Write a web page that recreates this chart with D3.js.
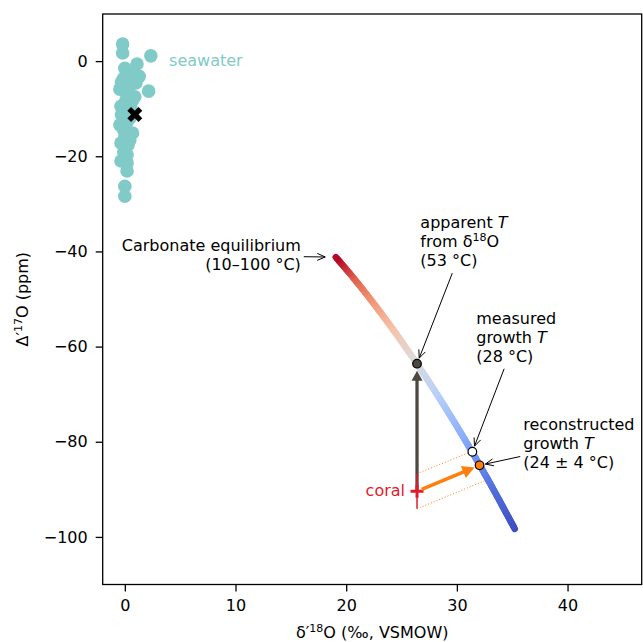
<!DOCTYPE html>
<html>
<head>
<meta charset="utf-8">
<script src="https://cdn.jsdelivr.net/npm/d3@7"></script>
<style>
body { margin: 0; background: #fff; }
text { font-family: "DejaVu Sans", sans-serif; }
</style>
</head>
<body>
<div class="container"></div>
<script>
// seawater samples (d'18O permil, D'17O ppm)
var seaD18 = [-0.2, -0.2, 2.35, 1.1, 0.0, 0.55, -0.1, 1.0, 2.15, -0.45, 0.2, 0.7, -0.35, 0.1, 0.1, 0.45, -0.45, 0.2,
              0.7, 0.0, -0.35, 0.3, -0.1, -0.35, 0.2, 0.2, 0.0, 0.0, -0.3, 0.35, -0.1, -0.3, 0.55, 0.2, 0.45, 1.3, 0.9]
var seaD17 = [3.6, 1.7, 1.1, -0.6, -1.5, -2.5, -3.6, -4.6, -6.3, -5.9, -6.9, -8.2, -9.5, -8.2, -10.3, -12.0, -13.4, -12.8,
              -15.1, -16.0, -17.2, -17.6, -19.1, -21.0, -21.4, -23.1, -26.3, -28.4, -4.4, -5.5, -14.5, -11.3, -9.9, -19.7, -16.6, -3.2, -7.5]
var seaMean = [0.9, -11.2]

// carbonate equilibrium line, 10-100 C
var eqTemp = [10, 20, 30, 40, 50, 60, 70, 80, 90, 100]
var eqD18 = [35.23, 32.95, 30.81, 28.81, 26.93, 25.17, 23.51, 21.94, 20.46, 19.06]
var eqD17 = [-98.3, -88.55, -79.9, -72.27, -65.48, -59.47, -54.11, -49.31, -45.02, -41.2]

// coral and the three temperature points
var coral = [26.4, -90.4]
var coralErr = 3.7
var apparentPt = [26.4, -63.6]
var measuredPt = [31.4, -82.1]
var reconPt = [32.05, -84.95]
var bandUpper = [[26.4, -86.7], [31.4, -82.0]]
var bandLower = [[26.4, -94.1], [32.6, -88.1]]

var xTicks = [0, 10, 20, 30, 40]
var yTicks = [0, -20, -40, -60, -80, -100]

var notes = [
    { lines: ['Carbonate equilibrium', '(10–100 °C)'], at: [15.9, -40.0], anchor: 'end', target: [19.1, -41.2], shrink: 11 },
    { lines: ['apparent <i>T</i>', 'from δ<sup>18</sup>O', '(53 °C)'], at: [26.7, -35.1], anchor: 'start', target: apparentPt, shrink: 6 },
    { lines: ['measured', 'growth <i>T</i>', '(28 °C)'], at: [31.75, -55.2], anchor: 'start', target: measuredPt, shrink: 6 },
    { lines: ['reconstructed', 'growth <i>T</i>', '(24 ± 4 °C)'], at: [36.0, -77.6], anchor: 'start', target: reconPt, shrink: 6 }
]

var coolwarm = ['#3b4cc0', '#5a78e4', '#8db0fe', '#b8d0f9', '#dddcdc', '#f5c4ac', '#f49a7b', '#e0654f', '#b40426']

var W = 643, H = 642
var mLeft = 102.7, mRight = 641.7, mTop = 14, mBottom = 584.5
var font = 16
var teal = '#80cbc8', red = '#e31a2c', orange = '#ff7f0e', gray = '#4d4840'

var svg = d3.select('.container')
    .append('svg')
    .attr('width', W)
    .attr('height', H)

var x = d3.scaleLinear().domain([-2.0, 46.7]).range([mLeft, mRight])
var y = d3.scaleLinear().domain([-110, 9.9]).range([mBottom, mTop])

var tempColor = d3.scaleLinear()
    .domain(d3.range(coolwarm.length).map(i => 10 + 90 * i / (coolwarm.length - 1)))
    .range(coolwarm)

// axes
svg.append('g')
    .attr('transform', 'translate(0,' + mBottom + ')')
    .call(d3.axisBottom(x).tickValues(xTicks).tickSize(7).tickSizeOuter(0).tickPadding(8))
svg.append('g')
    .attr('transform', 'translate(' + mLeft + ',0)')
    .call(d3.axisLeft(y).tickValues(yTicks).tickSize(7).tickSizeOuter(0).tickPadding(8))
svg.selectAll('.domain').remove()
svg.selectAll('.tick line').style('stroke', '#000').style('stroke-width', 1.3)
svg.selectAll('.tick text').style('font-size', font + 'px').style('fill', '#000').style('font-family', '"DejaVu Sans", sans-serif')

svg.append('rect')
    .attr('x', mLeft).attr('y', mTop)
    .attr('width', mRight - mLeft).attr('height', mBottom - mTop)
    .style('fill', 'none').style('stroke', '#000').style('stroke-width', 1.3)

// axis labels
svg.append('text')
    .attr('x', (mLeft + mRight) / 2).attr('y', 638)
    .attr('text-anchor', 'middle')
    .style('font-size', font + 'px')
    .html('δ′<tspan baseline-shift="super" font-size="11px">18</tspan>O (‰, VSMOW)')

svg.append('text')
    .attr('transform', 'translate(28,' + ((mTop + mBottom) / 2) + ') rotate(-90)')
    .attr('text-anchor', 'middle')
    .style('font-size', font + 'px')
    .html('Δ′<tspan baseline-shift="super" font-size="11px">17</tspan>O (ppm)')

var plot = svg.append('g')

// seawater
plot.selectAll('.sea')
    .data(seaD18.map((d, i) => [d, seaD17[i]]))
    .enter()
    .append('circle')
    .attr('class', 'sea')
    .attr('cx', d => x(d[0]))
    .attr('cy', d => y(d[1]))
    .attr('r', 6.8)
    .style('fill', teal)

plot.append('path')
    .attr('d', d3.symbol(d3.symbolCross, 140)())
    .attr('transform', 'translate(' + x(seaMean[0]) + ',' + y(seaMean[1]) + ') rotate(45)')
    .style('fill', '#000')

plot.append('text')
    .attr('x', x(4.0)).attr('y', y(-1.0))
    .style('font-size', font + 'px')
    .style('fill', teal)
    .text('seawater')

// equilibrium line: smooth path, then cut into short pieces coloured by temperature
var eqPts = eqTemp.map((t, i) => [x(eqD18[i]), y(eqD17[i])])
var guide = plot.append('path')
    .attr('d', d3.line().curve(d3.curveCatmullRom)(eqPts))
    .style('fill', 'none').style('stroke', 'none')
var node = guide.node()
var L = node.getTotalLength()
// temperature as a function of position along the path (via chord lengths)
var cum = [0]
for (var i = 1; i < eqPts.length; i++) {
    cum.push(cum[i - 1] + Math.hypot(eqPts[i][0] - eqPts[i - 1][0], eqPts[i][1] - eqPts[i - 1][1]))
}
var lenToT = d3.scaleLinear().domain(cum.map(c => c / cum[cum.length - 1] * L)).range(eqTemp)
var nSeg = 120
var segs = d3.range(nSeg).map(k => {
    var a = node.getPointAtLength(L * k / nSeg), b = node.getPointAtLength(L * (k + 1) / nSeg)
    return { x0: a.x, y0: a.y, x1: b.x, y1: b.y, T: lenToT(L * (k + 0.5) / nSeg) }
})
plot.selectAll('.eq')
    .data(segs)
    .enter()
    .append('line')
    .attr('class', 'eq')
    .attr('x1', d => d.x0).attr('y1', d => d.y0)
    .attr('x2', d => d.x1).attr('y2', d => d.y1)
    .style('stroke', d => tempColor(d.T))
    .style('stroke-width', 6.6)
    .style('stroke-linecap', 'round')

// dotted projection band
plot.selectAll('.band')
    .data([bandUpper, bandLower])
    .enter()
    .append('path')
    .attr('class', 'band')
    .attr('d', d3.line().x(d => x(d[0])).y(d => y(d[1])))
    .style('fill', 'none')
    .style('stroke', orange)
    .style('stroke-width', 1)
    .style('stroke-dasharray', '1,2')

function arrow(g, p0, p1, o) {
    var dx = p1[0] - p0[0], dy = p1[1] - p0[1]
    var len = Math.sqrt(dx * dx + dy * dy)
    var ux = dx / len, uy = dy / len, nx = -uy, ny = ux
    var sx = p0[0] + ux * (o.shrinkA || 0), sy = p0[1] + uy * (o.shrinkA || 0)
    var tx = p1[0] - ux * (o.shrinkB || 0), ty = p1[1] - uy * (o.shrinkB || 0)
    var bx = tx - ux * o.hl, by = ty - uy * o.hl
    if (o.filled) {
        g.append('line')
            .attr('x1', sx).attr('y1', sy).attr('x2', bx + ux * 1).attr('y2', by + uy * 1)
            .style('stroke', o.color).style('stroke-width', o.width)
        g.append('path')
            .attr('d', 'M' + tx + ',' + ty + 'L' + (bx + nx * o.hw) + ',' + (by + ny * o.hw) + 'L' + (bx - nx * o.hw) + ',' + (by - ny * o.hw) + 'Z')
            .style('fill', o.color)
    } else {
        g.append('line')
            .attr('x1', sx).attr('y1', sy).attr('x2', tx).attr('y2', ty)
            .style('stroke', o.color).style('stroke-width', o.width)
        g.append('path')
            .attr('d', 'M' + (bx + nx * o.hw) + ',' + (by + ny * o.hw) + 'L' + tx + ',' + ty + 'L' + (bx - nx * o.hw) + ',' + (by - ny * o.hw))
            .style('fill', 'none').style('stroke', o.color).style('stroke-width', o.width)
    }
}

// apparent T: vertical arrow from coral
arrow(plot, [x(coral[0]), y(coral[1])], [x(apparentPt[0]), y(apparentPt[1])],
    { color: gray, width: 3.3, filled: true, hl: 10, hw: 5.5, shrinkA: 0, shrinkB: 7 })

// coral with error bar
plot.append('line')
    .attr('x1', x(coral[0])).attr('x2', x(coral[0]))
    .attr('y1', y(coral[1] + coralErr)).attr('y2', y(coral[1] - coralErr))
    .style('stroke', red).style('stroke-width', 1.5)
plot.append('path')
    .attr('d', 'M' + (x(coral[0]) - 6.5) + ',' + y(coral[1]) + 'h13M' + x(coral[0]) + ',' + (y(coral[1]) - 6.5) + 'v13')
    .style('stroke', red).style('stroke-width', 3)
plot.append('text')
    .attr('x', x(coral[0]) - 12).attr('y', y(coral[1]) + 5)
    .attr('text-anchor', 'end')
    .style('font-size', font + 'px')
    .style('fill', red)
    .text('coral')

// reconstructed: slanted arrow
arrow(plot, [x(coral[0]), y(coral[1])], [x(reconPt[0]), y(reconPt[1])],
    { color: orange, width: 3.5, filled: true, hl: 12, hw: 6.5, shrinkA: 5, shrinkB: 5.5 })

// markers on the line
plot.selectAll('.pt')
    .data([[apparentPt, gray], [measuredPt, '#fff'], [reconPt, orange]])
    .enter()
    .append('circle')
    .attr('class', 'pt')
    .attr('cx', d => x(d[0][0]))
    .attr('cy', d => y(d[0][1]))
    .attr('r', 4.3)
    .style('fill', d => d[1])
    .style('stroke', '#000')
    .style('stroke-width', 1.2)

// annotations
notes.forEach(n => {
    var t = plot.append('text')
        .attr('text-anchor', n.anchor)
        .style('font-size', font + 'px')
        .style('fill', '#000')
    n.lines.forEach((l, i) => {
        var s = l.replace(/<i>(.*?)<\/i>/g, '<tspan font-style="italic">$1</tspan>')
            .replace(/<sup>(.*?)<\/sup>/g, '<tspan baseline-shift="super" font-size="11px">$1</tspan>')
        t.append('tspan')
            .attr('x', x(n.at[0]))
            .attr('y', y(n.at[1]) + i * 19)
            .html(s)
    })
    var b = t.node().getBBox()
    var pad = 3
    var x0 = b.x - pad, x1 = b.x + b.width + pad, y0 = b.y - pad, y1 = b.y + b.height + pad
    var cx = (x0 + x1) / 2, cy = (y0 + y1) / 2
    var px = x(n.target[0]), py = y(n.target[1])
    var dx = px - cx, dy = py - cy
    var tx = dx === 0 ? Infinity : (x1 - cx) / Math.abs(dx)
    var ty = dy === 0 ? Infinity : (y1 - cy) / Math.abs(dy)
    var tt = Math.min(tx, ty)
    arrow(plot, [cx + dx * tt, cy + dy * tt], [px, py],
        { color: '#000', width: 1, filled: false, hl: 8, hw: 3.5, shrinkA: 0, shrinkB: n.shrink })
})
</script>
</body>
</html>
